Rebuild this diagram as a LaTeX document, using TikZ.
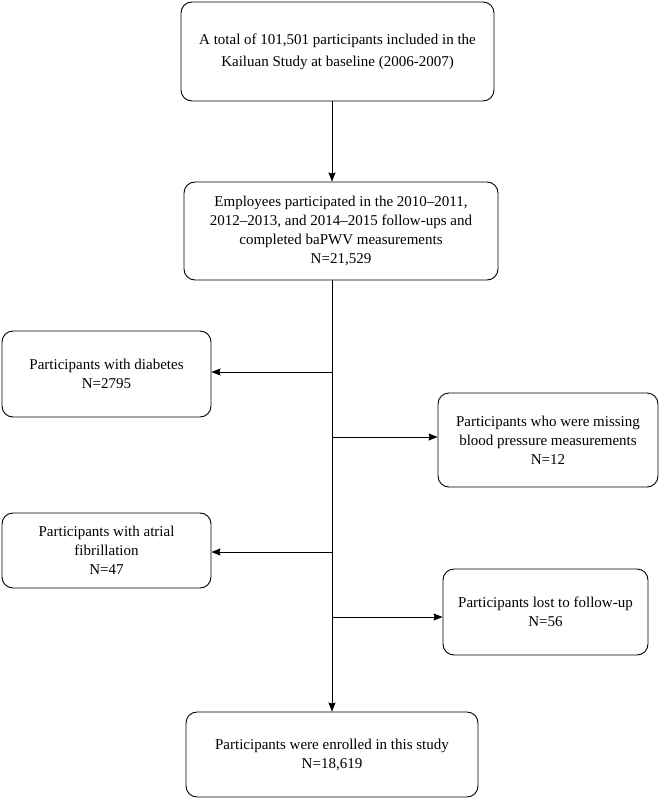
\documentclass[tikz,border=0pt]{standalone}
\usepackage{fontspec}
\setmainfont{Liberation Serif}
\usepackage{tikz}
\usetikzlibrary{positioning, arrows.meta}
\tikzstyle{arrow} = [line width=0.9pt,->,>={Stealth[length=9pt,width=7pt,inset=1pt]}]
\tikzstyle{box} = [draw, line width=0.9pt, rounded corners=11pt, align=center, inner sep=3pt]

\begin{document}
\begin{tikzpicture}[x=1pt, y=-1pt, font=\fontsize{15}{19}\selectfont]
        \useasboundingbox (0,0) rectangle (662,800);
        \node[box, minimum width=313pt, minimum height=99pt, font=\fontsize{15}{22}\selectfont] (total) at (337.5,51.5) {A total of 101,501 participants included in the\\Kailuan Study at baseline (2006-2007)};
        \node[box, minimum width=314pt, minimum height=98pt] (emp) at (341,231) {Employees participated in the 2010--2011,\\2012--2013, and 2014--2015 follow-ups and\\completed baPWV measurements\\N=21,529};
        \node[box, minimum width=209pt, minimum height=86pt] (diab) at (106.5,374) {Participants with diabetes\\N=2795};
        \node[box, minimum width=220pt, minimum height=94pt] (miss) at (548,440) {Participants who were missing\\blood pressure measurements\\N=12};
        \node[box, minimum width=209pt, minimum height=75pt] (af) at (106.5,550.5) {Participants with atrial\\fibrillation\\N=47};
        \node[box, minimum width=205pt, minimum height=86pt] (lost) at (545.5,612) {Participants lost to follow-up\\N=56};
        \node[box, minimum width=292pt, minimum height=85pt] (final) at (332,754.5) {Participants were enrolled in this study\\N=18,619};
        \coordinate (b1) at (332,372);
        \coordinate (b2) at (332,437);
        \coordinate (b3) at (332,552);
        \coordinate (b4) at (332,617);
        \draw[arrow] (total.south -| final) -- (emp.north -| final);
        \draw[arrow] (emp.south -| final) -- (final);
        \draw[arrow] (b1) -- (b1 -| diab.east);
        \draw[arrow] (b2) -- (b2 -| miss.west);
        \draw[arrow] (b3) -- (b3 -| af.east);
        \draw[arrow] (b4) -- (b4 -| lost.west);
      \end{tikzpicture}
\end{document}
